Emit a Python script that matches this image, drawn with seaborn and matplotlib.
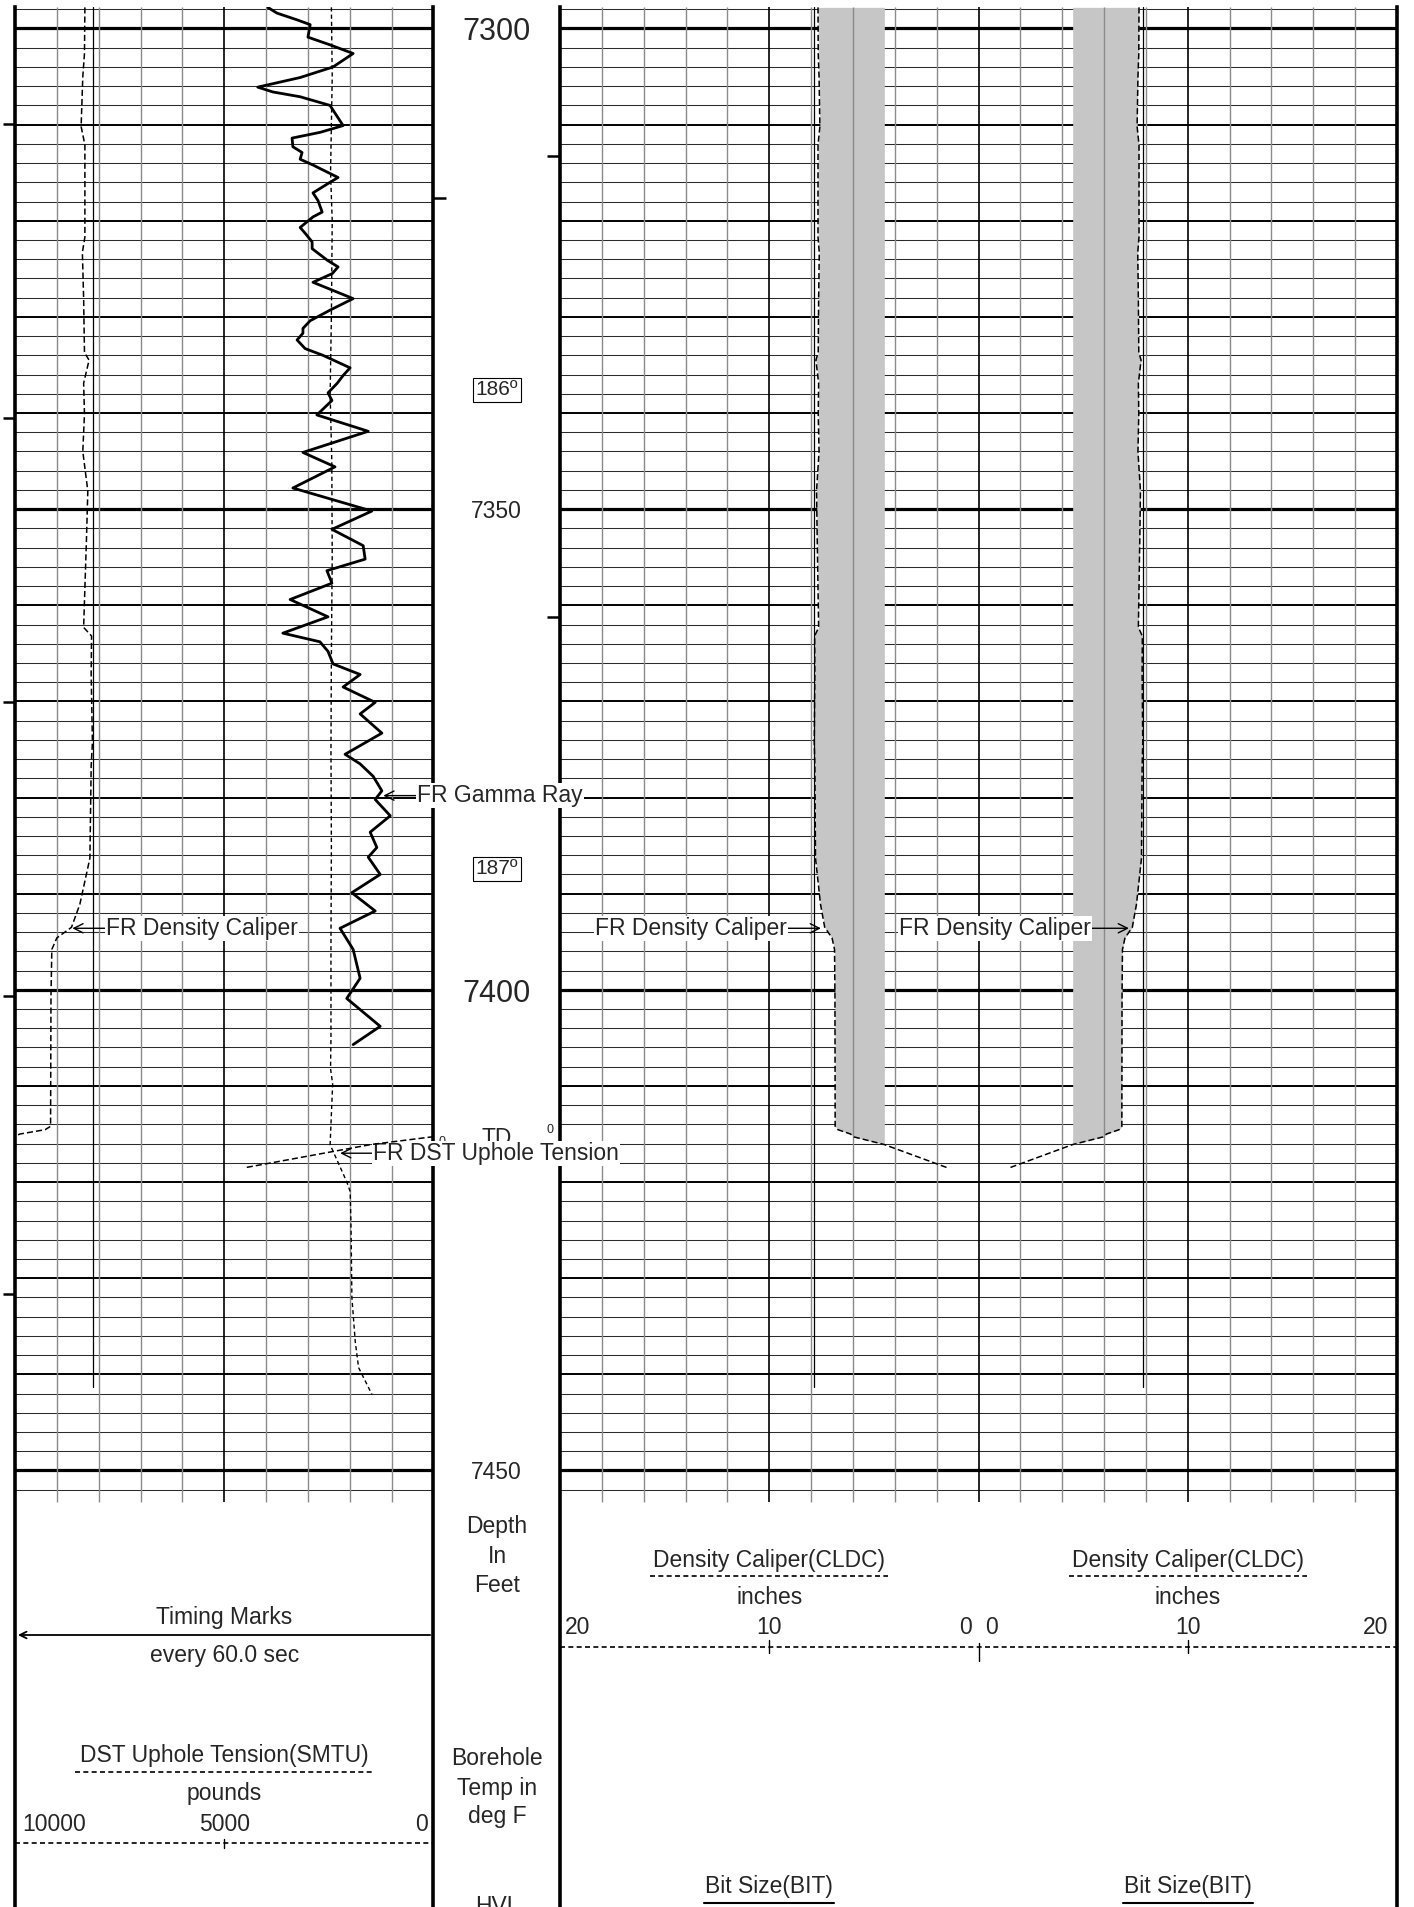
import numpy as np
import matplotlib.pyplot as plt
import seaborn as sns

# ---------------- curve data (depth in feet) ----------------
gr_depth = [7297.8, 7298.4, 7299.1, 7299.6, 7300.9, 7301.7, 7302.6, 7304.0, 7305.1, 7306.1,
            7306.6, 7307.1, 7308.0, 7310.1, 7310.8, 7311.4, 7312.3, 7312.9, 7313.6, 7314.2,
            7315.5, 7316.0, 7317.1, 7317.9, 7319.1, 7319.6, 7320.7, 7321.3, 7322.2, 7322.9,
            7324.1, 7324.8, 7325.5, 7326.4, 7327.0, 7328.1, 7329.3, 7330.4, 7331.2, 7331.7,
            7332.4, 7333.3, 7334.0, 7335.3, 7336.1, 7336.9, 7337.9, 7338.7, 7340.2, 7341.9,
            7344.1, 7345.6, 7347.8, 7350.2, 7352.1, 7353.8, 7355.2, 7356.4, 7357.7, 7359.4,
            7361.2, 7362.9, 7363.8, 7364.8, 7366.1, 7367.2, 7368.5, 7370.1, 7371.3, 7373.3,
            7375.5, 7376.5, 7377.8, 7379.3, 7380.2, 7381.9, 7383.6, 7385.2, 7386.2, 7388.0,
            7389.9, 7391.8, 7393.6, 7395.8, 7398.8, 7400.9, 7403.8, 7405.7]
gr_api = [90.6, 93.9, 101.1, 105.8, 105.0, 112.9, 121.2, 114.0, 102.2, 87.0,
          92.4, 102.2, 112.9, 117.6, 109.4, 99.3, 99.6, 102.9, 102.2, 106.8,
          115.8, 112.9, 106.8, 108.6, 110.1, 106.8, 102.2, 104.0, 106.5, 106.5,
          111.9, 115.8, 113.7, 106.8, 111.9, 121.2, 112.9, 105.8, 103.2, 103.2,
          101.1, 104.0, 110.4, 120.1, 117.6, 115.5, 112.2, 113.6, 108.2, 126.6,
          103.2, 114.7, 99.6, 127.9, 113.6, 124.8, 125.5, 111.8, 113.6, 98.6,
          112.2, 96.0, 109.3, 112.2, 114.0, 123.7, 117.6, 129.1, 123.7, 131.5,
          118.3, 123.7, 128.4, 131.5, 129.1, 134.5, 127.3, 129.7, 126.6, 130.9,
          120.7, 129.1, 116.5, 121.2, 123.7, 118.9, 130.9, 121.2]

dst_depth = [7297.8, 7305, 7315, 7320, 7330, 7338, 7345, 7355, 7365, 7375, 7385, 7395,
             7405, 7408.2, 7409.8, 7416.1, 7416.8, 7420.0, 7421.0, 7425.0, 7432.0,
             7436.6, 7439.3, 7442.1]
dst_lbs = [2440, 2420, 2460, 2420, 2440, 2470, 2430, 2420, 2440, 2450, 2440, 2450,
           2450, 2460, 2410, 2470, 2400, 2070, 1990, 1970, 1950,
           1870, 1790, 1470]

cal_depth = [7297.8, 7302.6, 7305.0, 7310.2, 7312.1, 7321.7, 7323.3, 7328.1, 7333.7, 7334.5,
             7336.9, 7340.1, 7344.0, 7348.1, 7352.8, 7362.3, 7363.2, 7367.1, 7374.3, 7376.7,
             7386.3, 7387.9, 7391.1, 7393.5, 7394.6, 7395.8, 7400.6, 7414.2, 7414.55, 7415.0,
             7415.3, 7416.1, 7418.5]
cal_in = [7.67, 7.66, 7.62, 7.58, 7.67, 7.67, 7.61, 7.64, 7.66, 7.77,
          7.64, 7.66, 7.62, 7.74, 7.71, 7.64, 7.83, 7.82, 7.85, 7.82,
          7.79, 7.71, 7.55, 7.35, 7.00, 6.88, 6.86, 6.85, 6.72, 6.12,
          5.96, 4.5, 1.5]

bit_depth = [7297.8, 7441.3]
bit_in = [7.875, 7.875]
fill_inner_in = 4.5

temp_depth = [7337.6, 7387.4]
temp_degf = [186, 187]
big_depth_labels = [7300, 7400]
small_depth_labels = [7350, 7450]
td_depth = 7415.5
timing_left = [7309.9, 7340.5, 7370.1, 7400.6, 7431.6]
timing_mid = [7317.6]
timing_right = [7313.3, 7361.2]

# ---------------- layout ----------------
W, H = 1414, 1907
TOP_PX = 7
PX_PER_FT = 9.613
TOP_DEPTH = 7300 - (28.5 - TOP_PX) / PX_PER_FT
BOT_DEPTH = TOP_DEPTH + (H - TOP_PX) / PX_PER_FT
GRID_END = 7453.3
FS = 16.5

sns.set_theme(style="white")
plt.rcParams['font.family'] = ['Liberation Sans', 'DejaVu Sans']
plt.rcParams['axes.unicode_minus'] = False

fig = plt.figure(figsize=(W / 100, H / 100), dpi=100)
fig.patch.set_facecolor('white')


def track(x0, x1, z, borders=False):
    ax = fig.add_axes([x0 / W, 0, (x1 - x0) / W, (H - TOP_PX) / H], zorder=z)
    ax.set_facecolor('none')
    ax.set_xticks([])
    ax.set_yticks([])
    for s in ax.spines.values():
        s.set_visible(False)
    if borders:
        for side in ('left', 'right'):
            ax.spines[side].set_visible(True)
            ax.spines[side].set_linewidth(2.6)
            ax.spines[side].set_color('black')
    return ax


def fy(ypx):
    # figure pixel row -> axes fraction of a track
    return (H - ypx) / (H - TOP_PX)


def depth_grid(ax, x0, x1):
    d = np.arange(7298, 7453, 2)
    ax.hlines(d[d % 10 != 0], x0, x1, color='#2a2a2a', lw=0.75, zorder=1)
    ax.hlines(d[(d % 10 == 0) & (d % 50 != 0)], x0, x1, color='black', lw=1.4, zorder=1)
    ax.hlines(d[d % 50 == 0], x0, x1, color='black', lw=2.3, zorder=1)


def finish(ax, xlim):
    ax.set_xlim(*xlim)
    ax.set_ylim(BOT_DEPTH, TOP_DEPTH)
    ax.set_xlabel('')
    ax.set_ylabel('')
    ax.set_xticks([])
    ax.set_yticks([])


lab_kw = dict(fontsize=FS, va='center', textcoords='offset pixels', zorder=10,
              bbox=dict(boxstyle='square,pad=0.05', fc='white', ec='none'),
              arrowprops=dict(arrowstyle='->', color='black', lw=1.0, shrinkA=0, shrinkB=0))

# ---------------- axes ----------------
ax_r = track(560, 1397, 1, borders=True)
ax_d = track(433.5, 560, 2)
ax_l = track(15, 433.5, 3, borders=True)
ax_dst = track(15, 433.5, 4)
ax_gr = track(15, 433.5, 5)
ax_cal = track(15, 433.5, 6)

# ---------------- left track ----------------
depth_grid(ax_l, 0, 10)
for v in range(1, 10):
    ax_l.vlines(v, TOP_DEPTH, GRID_END, color='black' if v == 5 else '#8a8a8a',
                lw=1.2 if v == 5 else 1.0, zorder=2)
ax_l.hlines(timing_left, -12 / 418.5, 0, transform=ax_l.get_yaxis_transform(),
            color='black', lw=1.8, clip_on=False)
ax_l.hlines(timing_mid, 1, 1 + 13 / 418.5, transform=ax_l.get_yaxis_transform(),
            color='black', lw=1.8, clip_on=False)
finish(ax_l, (0, 10))

# header of left track
T = ax_l.transAxes
ax_l.text(0.5, fy(1624), 'Timing Marks', transform=T, ha='center', va='baseline', fontsize=FS)
ax_l.annotate('', xy=(0.007, fy(1635)), xytext=(0.992, fy(1635)), xycoords='axes fraction',
              arrowprops=dict(arrowstyle='->', lw=1.3, color='black', shrinkA=0, shrinkB=0))
ax_l.text(0.5, fy(1661.7), 'every 60.0 sec', transform=T, ha='center', va='baseline', fontsize=FS)
ax_l.text(0.5, fy(1761.7), 'DST Uphole Tension(SMTU)', transform=T, ha='center', va='baseline', fontsize=FS)
ax_l.plot([(75 - 15) / 418.5, (372 - 15) / 418.5], [fy(1771.7)] * 2, transform=T,
          color='black', lw=1.2, ls=(0, (3, 2)), clip_on=False)
ax_l.text(0.5, fy(1800), 'pounds', transform=T, ha='center', va='baseline', fontsize=FS)
ax_l.text((22 - 15) / 418.5, fy(1831), '10000', transform=T, ha='left', va='baseline', fontsize=FS)
ax_l.text(0.5, fy(1831), '5000', transform=T, ha='center', va='baseline', fontsize=FS)
ax_l.text((428 - 15) / 418.5, fy(1831), '0', transform=T, ha='right', va='baseline', fontsize=FS)
ax_l.plot([0, 1], [fy(1842.7)] * 2, transform=T, color='black', lw=1.2, ls=(0, (3, 2)), clip_on=False)
ax_l.plot([0.5, 0.5], [fy(1839), fy(1848)], transform=T, color='black', lw=1.0, clip_on=False)

# DST uphole tension
sns.lineplot(x=dst_lbs, y=dst_depth, ax=ax_dst, sort=False, estimator=None, orient='y',
             color='black', lw=1.0, linestyle=(0, (3, 2.2)))
finish(ax_dst, (10000, 0))
ax_dst.annotate('FR DST Uphole Tension', xy=(2230, 7417.0), xytext=(33, 0), ha='left', **lab_kw)

# Gamma ray
sns.lineplot(x=gr_api, y=gr_depth, ax=ax_gr, sort=False, estimator=None, orient='y',
             color='black', lw=2.0)
finish(ax_gr, (0, 150))
ax_gr.annotate('FR Gamma Ray', xy=(132, 7379.8), xytext=(34, 0), ha='left', **lab_kw)

# Caliper and bit size on 6-16 in. scale, wrapping below 6 in.
cd = np.array(cal_depth)
cv = np.array(cal_in)
k = np.where(cv < 6)[0][0]
d6 = np.interp(6, [cv[k], cv[k - 1]], [cd[k], cd[k - 1]])
main_d = np.append(cd[:k], d6)
main_v = np.append(cv[:k], 6)
wrap_d = np.insert(cd[k:], 0, d6)
wrap_v = np.insert(cv[k:], 0, 6) + 10
for xs, ys in ((main_v, main_d), (wrap_v, wrap_d)):
    sns.lineplot(x=xs, y=ys, ax=ax_cal, sort=False, estimator=None, orient='y',
                 color='black', lw=1.1, linestyle=(0, (4, 2)))
sns.lineplot(x=bit_in, y=bit_depth, ax=ax_cal, sort=False, estimator=None, orient='y',
             color='black', lw=0.9)
finish(ax_cal, (6, 16))
ax_cal.annotate('FR Density Caliper', xy=(7.37, 7393.6), xytext=(34, 0), ha='left', **lab_kw)

# ---------------- depth track ----------------
finish(ax_d, (0, 1))
for d in big_depth_labels:
    ax_d.annotate(f'{d}', xy=(0.5, d), xytext=(0, -12), textcoords='offset pixels',
                  ha='center', va='baseline', fontsize=22)
for d in small_depth_labels:
    ax_d.annotate(f'{d}', xy=(0.5, d), xytext=(0, -8.5), textcoords='offset pixels',
                  ha='center', va='baseline', fontsize=FS)
for d, t in zip(temp_depth, temp_degf):
    ax_d.text(0.5, d, f'{t}\u00ba', ha='center', va='center', fontsize=15,
              bbox=dict(boxstyle='square,pad=0.12', fc='white', ec='black', lw=0.8))
ax_d.text(0.5, td_depth, 'TD', ha='center', va='center', fontsize=FS)
ax_d.text(0.071, td_depth + 0.3, '0', ha='center', va='center', fontsize=9)
ax_d.text(0.917, td_depth - 0.9, '0', ha='center', va='center', fontsize=9)
TD_ = ax_d.transAxes
for y, s in ((1533.3, 'Depth'), (1562.7, 'In'), (1591.7, 'Feet'),
             (1765, 'Borehole'), (1795, 'Temp in'), (1823.3, 'deg F'), (1913, 'HVL')):
    ax_d.text(0.502, fy(y), s, transform=TD_, ha='center', va='baseline', fontsize=FS, clip_on=False)

# ---------------- right track (caliper both sides of centre) ----------------
depth_grid(ax_r, -20, 20)
cal_arr = np.array(cal_in)
ax_r.fill_betweenx(cal_depth, -cal_arr, -fill_inner_in, where=cal_arr >= fill_inner_in,
                   interpolate=True, color='#c6c6c6', lw=0, zorder=1.5)
ax_r.fill_betweenx(cal_depth, fill_inner_in, cal_arr, where=cal_arr >= fill_inner_in,
                   interpolate=True, color='#c6c6c6', lw=0, zorder=1.5)
for v in range(-18, 19, 2):
    dark = v in (-10, 0, 10)
    ax_r.vlines(v, TOP_DEPTH, GRID_END, color='black' if dark else '#8a8a8a',
                lw=1.2 if dark else 1.0, zorder=2)
for sgn in (-1, 1):
    sns.lineplot(x=sgn * cal_arr, y=cal_depth, ax=ax_r, sort=False, estimator=None, orient='y',
                 color='black', lw=1.1, linestyle=(0, (4, 2)), zorder=3)
    sns.lineplot(x=[sgn * b for b in bit_in], y=bit_depth, ax=ax_r, sort=False, estimator=None,
                 orient='y', color='black', lw=0.9, zorder=3)
ax_r.hlines(timing_right, -13 / 837, 0, transform=ax_r.get_yaxis_transform(),
            color='black', lw=1.8, clip_on=False)
finish(ax_r, (-20, 20))
ax_r.annotate('FR Density Caliper', xy=(-7.53, 7393.6), xytext=(-34, 0), ha='right', **lab_kw)
ax_r.annotate('FR Density Caliper', xy=(7.19, 7393.6), xytext=(-38, 0), ha='right', **lab_kw)

# header of right track
X = ax_r.get_xaxis_transform()
for c in (-10, 10):
    ax_r.text(c, fy(1566.7), 'Density Caliper(CLDC)', transform=X, ha='center', va='baseline', fontsize=FS)
    ax_r.plot([c - 5.68, c + 5.68], [fy(1576)] * 2, transform=X, color='black', lw=1.2,
              ls=(0, (3, 2)), clip_on=False)
    ax_r.text(c, fy(1604), 'inches', transform=X, ha='center', va='baseline', fontsize=FS)
    ax_r.text(c, fy(1634), '10', transform=X, ha='center', va='baseline', fontsize=FS)
    ax_r.plot([c, c], [fy(1640), fy(1653)], transform=X, color='black', lw=1.0, clip_on=False)
    ax_r.text(c, fy(1893.3), 'Bit Size(BIT)', transform=X, ha='center', va='baseline', fontsize=FS)
    ax_r.plot([c - 3.1, c + 3.1], [fy(1903.3)] * 2, transform=X, color='black', lw=1.5, clip_on=False)
ax_r.text(-19.75, fy(1634), '20', transform=X, ha='left', va='baseline', fontsize=FS)
ax_r.text(-0.33, fy(1634), '0', transform=X, ha='right', va='baseline', fontsize=FS)
ax_r.text(0.31, fy(1634), '0', transform=X, ha='left', va='baseline', fontsize=FS)
ax_r.text(19.6, fy(1634), '20', transform=X, ha='right', va='baseline', fontsize=FS)
ax_r.plot([-20, 20], [fy(1646.7)] * 2, transform=X, color='black', lw=1.2, ls=(0, (3, 2)), clip_on=False)
ax_r.plot([0, 0], [fy(1643), fy(1661)], transform=X, color='black', lw=1.0, clip_on=False)

fig.savefig('out.png', dpi=100)
